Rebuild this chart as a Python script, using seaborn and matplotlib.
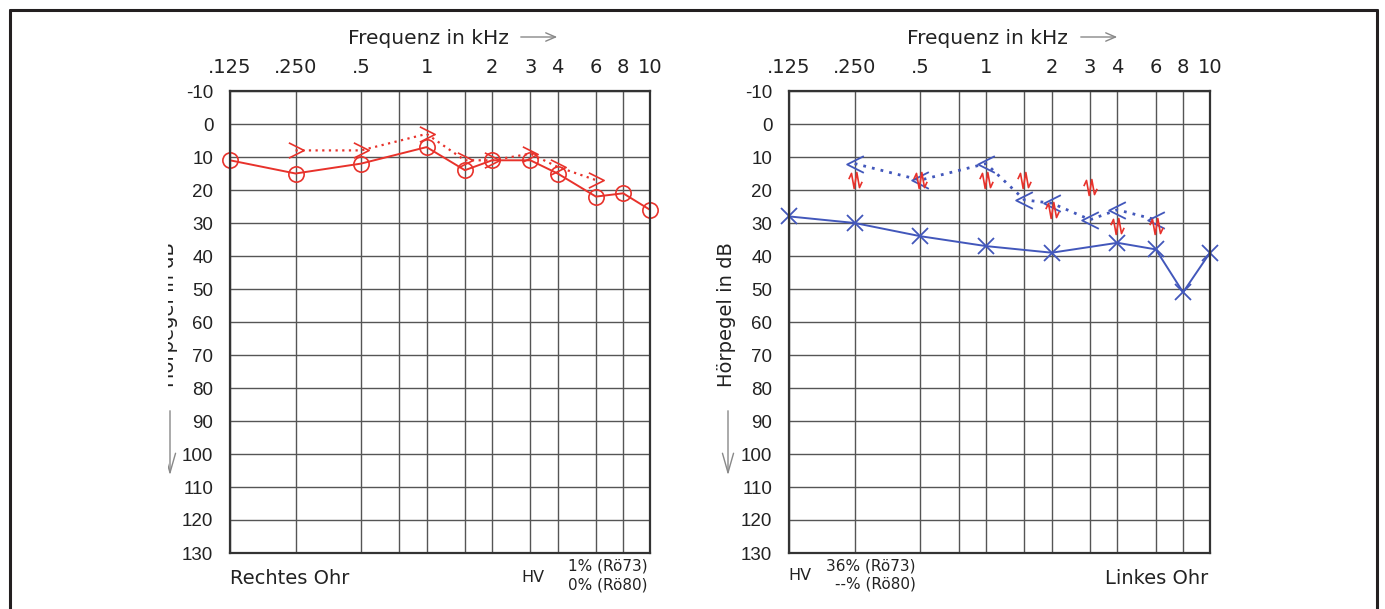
import numpy as np
import matplotlib
matplotlib.use("Agg")
import matplotlib.pyplot as plt
from matplotlib.path import Path
from matplotlib.lines import Line2D
from matplotlib.transforms import Bbox
import seaborn as sns

# data (dB HL)
grid_freqs = [0.125, 0.25, 0.5, 0.75, 1, 1.5, 2, 3, 4, 6, 8, 10]
tick_labels = [".125", ".250", ".5", "", "1", "", "2", "3", "4", "6", "8", "10"]
y_ticks = list(range(-10, 131, 10))

right_air_f = [0.125, 0.25, 0.5, 1, 1.5, 2, 3, 4, 6, 8, 10]
right_air_db = [11, 15, 12, 7, 14, 11, 11, 15, 22, 21, 26]
right_bone_f = [0.25, 0.5, 1, 1.5, 2, 3, 4, 6]
right_bone_db = [8, 8, 3, 11, 11, 9, 13, 17]

left_air_f = [0.125, 0.25, 0.5, 1, 2, 4, 6, 8, 10]
left_air_db = [28, 30, 34, 37, 39, 36, 38, 51, 39]
left_bone_f = [0.25, 0.5, 1, 1.5, 2, 3, 4, 6]
left_bone_db = [12, 17, 12, 23, 24, 29, 26, 29]
mask_f = [0.25, 0.5, 1, 1.5, 2, 3, 4, 6]
mask_db = [17, 17, 17, 17, 26, 19, 31, 31]

RED = "#e8322b"
BLUE = "#4257bb"
INK = "#222"
W, H = 1385, 609

sns.set_style("white")
plt.rcParams["font.family"] = ["DejaVu Sans"]
plt.rcParams["axes.unicode_minus"] = False

# octave axis: log spacing up to 8 kHz, 10 kHz sits a bit wider as on the form
anchor_f = np.log2([0.125, 0.25, 0.5, 1, 2, 4, 8, 10])
anchor_p = np.array([0, 1, 2, 3, 4, 5, 6, 6.41])


def fwd(f):
    return np.interp(np.log2(np.maximum(f, 1e-6)), anchor_f, anchor_p)


def inv(p):
    return 2 ** np.interp(p, anchor_p, anchor_f)


chev_r = Path([(-1, 1), (1, 0), (-1, -1)], [Path.MOVETO, Path.LINETO, Path.LINETO])
chev_l = Path([(1, 1), (-1, 0), (1, -1)], [Path.MOVETO, Path.LINETO, Path.LINETO])
zig = Path([(-0.75, 0.15), (-0.45, 0.8), (-0.15, -0.9), (0.15, 0.9), (0.45, -0.8), (0.75, -0.15)],
           [Path.MOVETO] + [Path.LINETO] * 5)

fig = plt.figure(figsize=(W / 100, H / 100), dpi=100)
ax_r = fig.add_axes([230 / W, 1 - 553 / H, 420 / W, 462 / H])
ax_l = fig.add_axes([789 / W, 1 - 553 / H, 421 / W, 462 / H])

for ax in (ax_r, ax_l):
    ax.set_xscale("function", functions=(fwd, inv))
    ax.set_xlim(0.125, 10)
    ax.set_ylim(130, -10)
    ax.set_xticks(grid_freqs)
    ax.set_xticklabels(tick_labels)
    ax.set_yticks(y_ticks)
    ax.set_yticklabels([str(v) for v in y_ticks], family="Liberation Sans", fontsize=13.5)
    ax.xaxis.set_minor_locator(matplotlib.ticker.NullLocator())
    ax.xaxis.tick_top()
    ax.tick_params(length=0, colors=INK)
    ax.tick_params(axis="x", pad=10, labelsize=14)
    ax.tick_params(axis="y", pad=12)
    ax.grid(True, color="#555", lw=1)
    for s in ax.spines.values():
        s.set_color("#333")
        s.set_linewidth(1.6)

# right ear
sns.lineplot(x=right_air_f, y=right_air_db, ax=ax_r, sort=False, estimator=None, color=RED,
             lw=1.4, marker="o", markersize=11, markerfacecolor="none", markeredgecolor=RED,
             markeredgewidth=1.2, clip_on=False)
sns.lineplot(x=right_bone_f, y=right_bone_db, ax=ax_r, sort=False, estimator=None, color=RED,
             lw=1.6, linestyle=(0, (1, 2)), marker=chev_r, markersize=11, markerfacecolor="none",
             markeredgecolor=RED, markeredgewidth=1.2, clip_on=False)

# left ear
sns.lineplot(x=left_air_f, y=left_air_db, ax=ax_l, sort=False, estimator=None, color=BLUE,
             lw=1.4, marker="x", markersize=12, markeredgecolor=BLUE, markeredgewidth=1.3,
             clip_on=False)
sns.lineplot(x=left_bone_f, y=left_bone_db, ax=ax_l, sort=False, estimator=None, color=BLUE,
             lw=2, linestyle=(0, (1, 2.2)), marker=chev_l, markersize=12, markerfacecolor="none",
             markeredgecolor=BLUE, markeredgewidth=1.3, clip_on=False)
sns.lineplot(x=mask_f, y=mask_db, ax=ax_l, sort=False, estimator=None, linestyle="",
             marker=zig, markersize=11.5, markerfacecolor="none", markeredgecolor=RED,
             markeredgewidth=1.2, clip_on=False)

for ax in (ax_r, ax_l):
    ax.set_xlabel("")
    ax.set_ylabel("")
    if ax.get_legend():
        ax.get_legend().remove()


def fx(px):
    return px / W


def fy(py):
    return 1 - py / H


# headers and axis titles
for cx, ax0 in ((428, 512), (987, 1072)):
    fig.text(fx(cx), fy(38), "Frequenz in kHz", ha="center", va="center", fontsize=14.5, color=INK)
    fig.add_artist(matplotlib.patches.FancyArrowPatch(
        (fx(ax0 + 6), fy(37)), (fx(ax0 + 48), fy(37)), transform=fig.transFigure,
        arrowstyle="->,head_length=7,head_width=3", color="#888", lw=1))

clip = Bbox([[168, 0], [W, H]])
for cx, clipped in ((169, True), (727, False)):
    t = fig.text(fx(cx), fy(315), "Hörpegel in dB", rotation=90, ha="center", va="center",
                 fontsize=14, color=INK)
    a = matplotlib.patches.FancyArrowPatch(
        (fx(cx + 1), fy(408)), (fx(cx + 1), fy(478)), transform=fig.transFigure,
        arrowstyle="->,head_length=14,head_width=4", color="#888", lw=1)
    fig.add_artist(a)
    if clipped:
        t.set_clip_on(True)
        t.set_clip_box(clip)
        a.set_clip_on(True)
        a.set_clip_box(clip)

# bottom notes
fig.text(fx(230), fy(579), "Rechtes Ohr", ha="left", va="center", fontsize=14, color=INK)
fig.text(fx(533), fy(577), "HV", ha="center", va="center", fontsize=11.5, color=INK)
fig.text(fx(648), fy(566), "1% (Rö73)", ha="right", va="center", fontsize=11, color=INK)
fig.text(fx(648), fy(585), "0% (Rö80)", ha="right", va="center", fontsize=11, color=INK)

fig.text(fx(800), fy(575), "HV", ha="center", va="center", fontsize=11.5, color=INK)
fig.text(fx(916), fy(566), "36% (Rö73)", ha="right", va="center", fontsize=11, color=INK)
fig.text(fx(916), fy(584), "--% (Rö80)", ha="right", va="center", fontsize=11, color=INK)
fig.text(fx(1208), fy(579), "Linkes Ohr", ha="right", va="center", fontsize=14, color=INK)

# outer frame (open at the bottom)
for xs, ys in (([10, 10], [H + 5, 10]), ([10, 1377], [10, 10]), ([1377, 1377], [10, H + 5])):
    fig.add_artist(Line2D([fx(v) for v in xs], [fy(v) for v in ys], transform=fig.transFigure,
                          color="#231f20", lw=2.2))

fig.savefig("out.png", dpi=100)
